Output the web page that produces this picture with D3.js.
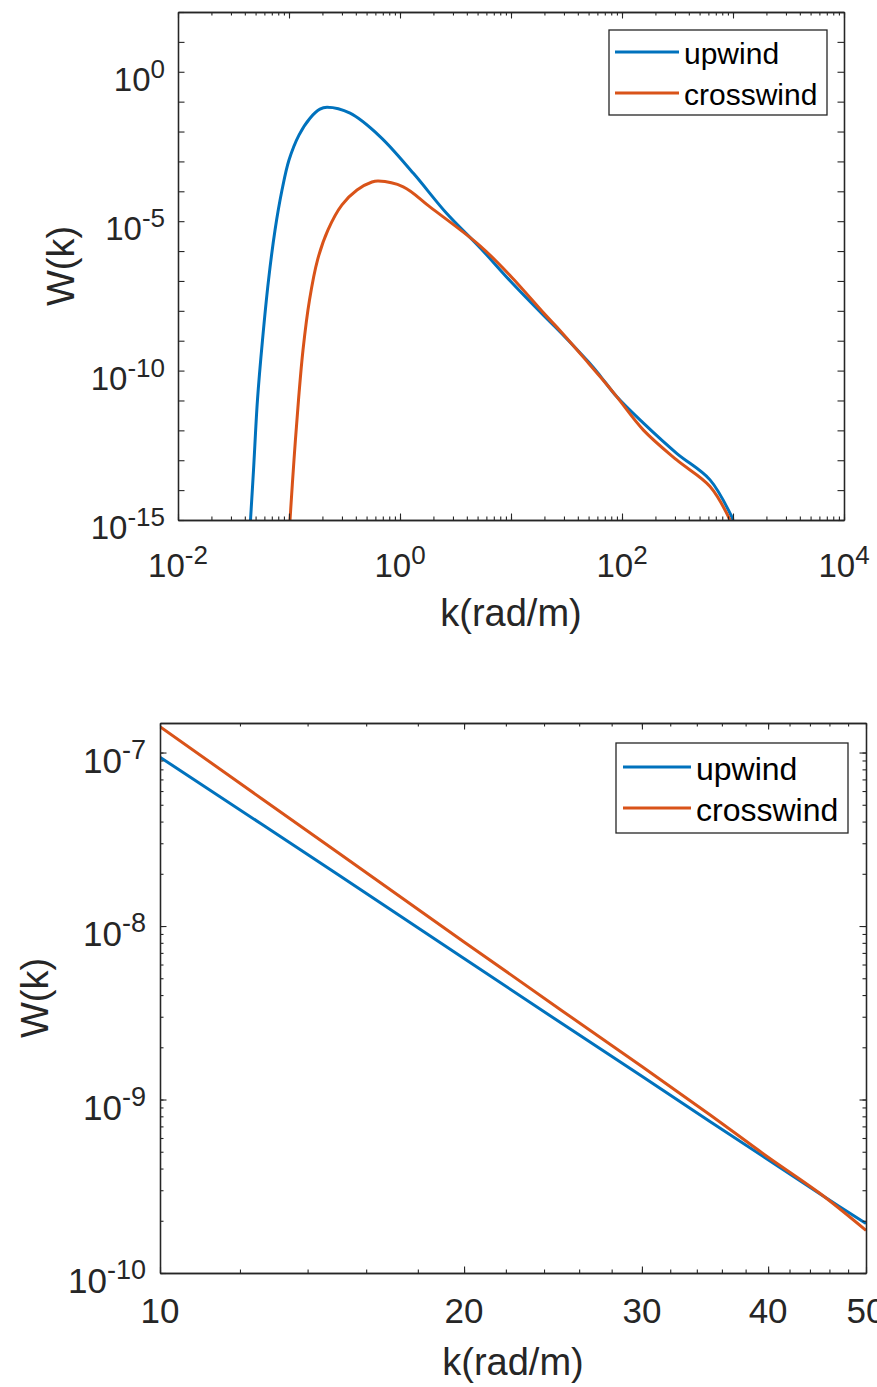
<!DOCTYPE html>
<html>
<head>
<meta charset="utf-8">
<script src="https://cdn.jsdelivr.net/npm/d3@7"></script>
<style>
  html, body { margin: 0; padding: 0; background: #fff; }
  svg { display: block; }
</style>
</head>
<body>
<div id="chart"></div>
<script>
// ---- data ----
const seriesNames = ["upwind", "crosswind"];

// top panel: full spectrum
const topUpwindK = [0.045, 0.0479, 0.052, 0.0577, 0.0654, 0.0748, 0.0865, 0.1, 0.123, 0.1546, 0.19, 0.22, 0.355, 0.661, 1.32, 2.64, 5.26, 10, 20, 27.6, 50, 63.4, 89.5, 156, 311, 621, 973, 1000];
const topUpwindW = [1e-15, 4.7e-14, 1.05e-11, 1.05e-9, 1.07e-7, 5.0e-6, 1.1e-4, 1.11e-3, 7.6e-3, 0.028, 0.056, 0.0644, 0.041, 6.8e-3, 4.0e-4, 1.8e-5, 1.3e-6, 9.4e-8, 6.6e-9, 2.0e-9, 1.93e-10, 6.8e-11, 1.35e-11, 1.74e-12, 1.7e-13, 2.2e-14, 1.29e-15, 1e-15];
const topCrossK = [0.1021, 0.1109, 0.1218, 0.1337, 0.153, 0.1806, 0.2246, 0.3, 0.41, 0.559, 0.637, 1.07, 1.86, 5.26, 10, 20, 27.6, 50, 63.4, 89.5, 156, 311, 621, 940];
const topCrossW = [1e-15, 1.02e-13, 1.05e-11, 4.9e-10, 2.3e-8, 5.0e-7, 5.1e-6, 3.5e-5, 1.1e-4, 2.04e-4, 2.2e-4, 1.41e-4, 3.0e-5, 1.5e-6, 1.41e-7, 7.9e-9, 2.2e-9, 1.76e-10, 6.3e-11, 1.35e-11, 1.02e-12, 1.02e-13, 1.32e-14, 1e-15];

// bottom panel: zoom on 10..50 rad/m
const botK = [10, 15, 20, 25, 30, 35, 40, 45, 50];
const botUpwindW = [9.4e-8, 1.98e-8, 6.5e-9, 2.74e-9, 1.36e-9, 7.5e-10, 4.5e-10, 2.86e-10, 1.93e-10];
const botCrossW = [1.41e-7, 2.65e-8, 8.1e-9, 3.25e-9, 1.55e-9, 8.2e-10, 4.65e-10, 2.88e-10, 1.76e-10];

// tick labels
const topXTicks = [1e-2, 1e0, 1e2, 1e4];
const topYTicks = [1e-15, 1e-10, 1e-5, 1e0];
const botXTicks = [10, 20, 30, 40, 50];
const botYTicks = [1e-10, 1e-9, 1e-8, 1e-7];

const font = "'Liberation Sans', Arial, Helvetica, sans-serif";
const ink = "#262626";
const color = d3.scaleOrdinal().domain(seriesNames).range(["#0072BD", "#D95319"]);

const svg = d3.select("#chart").append("svg")
  .attr("width", 877)
  .attr("height", 1387)
  .style("font-family", font);

function zip(ks, ws) { return ks.map((k, i) => ({ k, w: ws[i] })); }

function panel(p) {
  const x = d3.scaleLog().domain(p.xDomain).range([p.left, p.right]);
  const y = d3.scaleLog().domain(p.yDomain).range([p.bottom, p.top]);
  const g = svg.append("g");

  // curves, clipped to the box
  g.append("clipPath").attr("id", p.id)
    .append("rect")
    .attr("x", p.left).attr("y", p.top)
    .attr("width", p.right - p.left).attr("height", p.bottom - p.top);

  const line = d3.line().x(d => x(d.k)).y(d => y(d.w)).curve(d3.curveCatmullRom.alpha(0.5));
  g.append("g").attr("clip-path", `url(#${p.id})`)
    .selectAll("path")
    .data(p.series)
    .join("path")
    .attr("d", d => line(d.values))
    .attr("fill", "none")
    .attr("stroke", d => color(d.name))
    .attr("stroke-width", 3)
    .attr("stroke-linejoin", "round");

  // ticks pointing inwards, on all four sides
  const sides = [
    [d3.axisBottom, x, `translate(0,${p.bottom})`],
    [d3.axisTop, x, `translate(0,${p.top})`],
    [d3.axisLeft, y, `translate(${p.left},0)`],
    [d3.axisRight, y, `translate(${p.right},0)`]
  ];
  sides.forEach(([axisFn, scale, tr], i) => {
    const minor = i < 2 ? p.xMinor : p.yMinor;
    const major = i < 2 ? p.xMajor : p.yMajor;
    [[minor, p.minorLen], [major, 6.5]].forEach(([vals, len]) => {
      g.append("g")
        .attr("transform", tr)
        .call(axisFn(scale).tickValues(vals).tickSize(-len).tickSizeOuter(0).tickFormat(""))
        .call(a => a.selectAll("line").attr("stroke", ink).attr("stroke-width", 1.1))
        .call(a => a.select(".domain").attr("stroke", ink).attr("stroke-width", 1.3));
    });
  });

  // tick labels
  const sup = (t, base, e) => {
    if (e === null) { t.text(base); return; }
    t.append("tspan").text(base);
    t.append("tspan").attr("dy", -p.rise).attr("font-size", p.sfs).text(e);
  };
  g.selectAll("text.xt")
    .data(p.xLabels)
    .join("text")
    .attr("class", "xt")
    .attr("x", d => x(d))
    .attr("y", p.xLabelY)
    .attr("text-anchor", "middle")
    .attr("font-size", p.fs)
    .attr("fill", ink)
    .each(function (d) {
      sup(d3.select(this), p.xBase(d), p.xExp(d));
    });

  g.selectAll("text.yt")
    .data(p.yLabels)
    .join("text")
    .attr("class", "yt")
    .attr("x", p.left - p.yLabelGap)
    .attr("y", d => y(d) + p.yLabelDy)
    .attr("text-anchor", "end")
    .attr("font-size", p.fs)
    .attr("fill", ink)
    .each(function (d) {
      sup(d3.select(this), "10", String(Math.round(Math.log10(d))));
    });

  // axis titles
  g.append("text")
    .attr("x", (p.left + p.right) / 2)
    .attr("y", p.xTitleY)
    .attr("text-anchor", "middle")
    .attr("font-size", 38)
    .attr("fill", ink)
    .text("k(rad/m)");

  g.append("text")
    .attr("transform", `translate(${p.yTitleX},${(p.top + p.bottom) / 2}) rotate(-90)`)
    .attr("text-anchor", "middle")
    .attr("font-size", 38)
    .attr("fill", ink)
    .text("W(k)");

  // legend
  const L = p.legend;
  const lg = g.append("g");
  lg.append("rect")
    .attr("x", L.x).attr("y", L.y).attr("width", L.w).attr("height", L.h)
    .attr("fill", "#fff").attr("stroke", ink).attr("stroke-width", 1.3);
  const items = lg.selectAll("g.item")
    .data(seriesNames)
    .join("g")
    .attr("class", "item")
    .attr("transform", (d, i) => `translate(0,${L.rows[i]})`);
  items.append("line")
    .attr("x1", L.x + L.pad).attr("x2", L.x + L.pad + L.sample)
    .attr("stroke", d => color(d)).attr("stroke-width", 3);
  items.append("text")
    .attr("x", L.x + L.pad + L.sample + 5)
    .attr("y", L.textDy)
    .attr("font-size", L.fs)
    .attr("fill", "#000")
    .text(d => d);
}

panel({
  id: "clipTop",
  left: 178, right: 844, top: 12, bottom: 520,
  xDomain: [1e-2, 1e4], yDomain: [1e-15, 1e2],
  series: [
    { name: "upwind", values: zip(topUpwindK, topUpwindW) },
    { name: "crosswind", values: zip(topCrossK, topCrossW) }
  ],
  xMinor: d3.scaleLog().domain([1e-2, 1e4]).ticks(),
  xMajor: d3.range(-2, 5).map(e => Math.pow(10, e)),
  yMinor: [],
  yMajor: d3.range(-15, 3).map(e => Math.pow(10, e)),
  minorLen: 3.5,
  xLabels: topXTicks,
  xBase: () => "10",
  xExp: d => String(Math.round(Math.log10(d))),
  yLabels: topYTicks,
  fs: 33, sfs: 26, rise: 13,
  xLabelY: 577, yLabelGap: 13, yLabelDy: 19,
  xTitleY: 626, yTitleX: 74,
  legend: { x: 609, y: 30, w: 218, h: 85, pad: 6, sample: 64, rows: [52, 93], textDy: 12, fs: 30 }
});

panel({
  id: "clipBot",
  left: 160, right: 866, top: 723, bottom: 1273,
  xDomain: [10, 50], yDomain: [1e-10, 1.48e-7],
  series: [
    { name: "upwind", values: zip(botK, botUpwindW) },
    { name: "crosswind", values: zip(botK, botCrossW) }
  ],
  xMinor: d3.range(10, 51, 2),
  xMajor: botXTicks,
  yMinor: d3.scaleLog().domain([1e-10, 1.48e-7]).ticks(),
  yMajor: botYTicks,
  minorLen: 3.5,
  xLabels: botXTicks,
  xBase: d => String(d),
  xExp: () => null,
  yLabels: botYTicks,
  fs: 35, sfs: 27, rise: 14,
  xLabelY: 1323, yLabelGap: 14, yLabelDy: 20,
  xTitleY: 1375, yTitleX: 48,
  legend: { x: 616, y: 743, w: 232, h: 90, pad: 7, sample: 68, rows: [767, 808], textDy: 13, fs: 32 }
});
</script>
</body>
</html>
